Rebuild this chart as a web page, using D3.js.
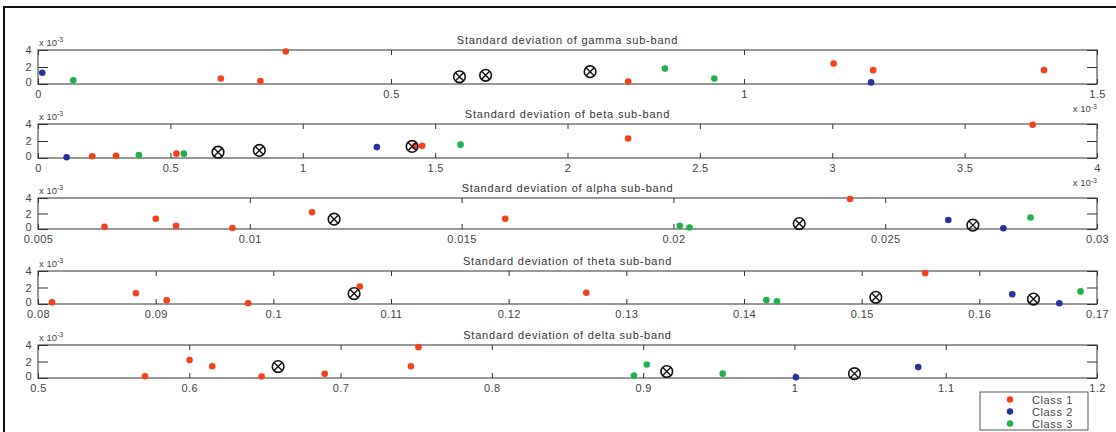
<!DOCTYPE html>
<html>
<head>
<meta charset="utf-8">
<script src="https://cdn.jsdelivr.net/npm/d3@7"></script>
<style>
  body { margin: 0; background: #fff; }
  text { font-family: "Liberation Sans", Arial, sans-serif; }
</style>
</head>
<body>
<div id="chart"></div>
<script>
// band titles, top to bottom
var bandTitles = [
  "Standard deviation of gamma sub-band",
  "Standard deviation of beta sub-band",
  "Standard deviation of alpha sub-band",
  "Standard deviation of theta sub-band",
  "Standard deviation of delta sub-band"
];

// x ranges and tick values (gamma and beta are in units of 1e-3)
var xDomains = [[0, 1.5], [0, 4], [0.005, 0.03], [0.08, 0.17], [0.5, 1.2]];
var xTicks = [
  [0, 0.5, 1, 1.5],
  [0, 0.5, 1, 1.5, 2, 2.5, 3, 3.5, 4],
  [0.005, 0.01, 0.015, 0.02, 0.025, 0.03],
  [0.08, 0.09, 0.1, 0.11, 0.12, 0.13, 0.14, 0.15, 0.16, 0.17],
  [0.5, 0.6, 0.7, 0.8, 0.9, 1, 1.1, 1.2]
];
var xExponent = [true, true, false, false, false];
var yTicks = [0, 2, 4];

// points as [x, y]; y in units of 1e-3
var gammaClass1 = [[0.259, 0.64], [0.315, 0.34], [0.351, 3.83], [0.836, 0.28], [1.127, 2.42], [1.183, 1.63], [1.425, 1.63]];
var gammaClass2 = [[0.006, 1.32], [1.180, 0.19]];
var gammaClass3 = [[0.050, 0.43], [0.888, 1.81], [0.958, 0.65]];
var gammaCenters = [[0.597, 0.85], [0.634, 1.02], [0.782, 1.45]];

var betaClass1 = [[0.205, 0.21], [0.295, 0.26], [0.523, 0.51], [1.424, 1.40], [1.451, 1.45], [2.229, 2.30], [3.757, 3.91]];
var betaClass2 = [[0.108, 0.09], [1.280, 1.28]];
var betaClass3 = [[0.381, 0.34], [0.551, 0.51], [1.596, 1.57]];
var betaCenters = [[0.680, 0.68], [0.836, 0.89], [1.413, 1.36]];

var alphaClass1 = [[0.00657, 0.3], [0.00778, 1.32], [0.00826, 0.4], [0.00959, 0.12], [0.01147, 2.16], [0.01603, 1.32], [0.02417, 3.86]];
var alphaClass2 = [[0.02649, 1.16], [0.02779, 0.1]];
var alphaClass3 = [[0.02015, 0.42], [0.02038, 0.2], [0.02843, 1.49]];
var alphaCenters = [[0.01199, 1.27], [0.02297, 0.70], [0.02707, 0.50]];

var thetaClass1 = [[0.08119, 0.2], [0.08832, 1.30], [0.09094, 0.45], [0.09786, 0.1], [0.10735, 2.13], [0.1266, 1.36], [0.1554, 3.74]];
var thetaClass2 = [[0.1628, 1.19], [0.1668, 0.1]];
var thetaClass3 = [[0.1419, 0.47], [0.1428, 0.32], [0.1686, 1.53]];
var thetaCenters = [[0.10686, 1.26], [0.1512, 0.81], [0.1646, 0.6]];

var deltaClass1 = [[0.5707, 0.22], [0.6002, 2.19], [0.6152, 1.42], [0.6478, 0.18], [0.6895, 0.52], [0.7465, 1.42], [0.7515, 3.74]];
var deltaClass2 = [[1.001, 0.09], [1.0818, 1.32]];
var deltaClass3 = [[0.8939, 0.31], [0.9024, 1.63], [0.9526, 0.53]];
var deltaCenters = [[0.6587, 1.38], [0.9156, 0.79], [1.0397, 0.53]];

var classNames = ["Class 1", "Class 2", "Class 3"];
var classColors = ["#f5401c", "#25339a", "#1fb24a"];

var bands = [
  [gammaClass1, gammaClass2, gammaClass3, gammaCenters],
  [betaClass1, betaClass2, betaClass3, betaCenters],
  [alphaClass1, alphaClass2, alphaClass3, alphaCenters],
  [thetaClass1, thetaClass2, thetaClass3, thetaCenters],
  [deltaClass1, deltaClass2, deltaClass3, deltaCenters]
];

var W = 1116, H = 432;
var left = 38, right = 1097;
var panelTops = [50, 124, 198, 271, 345];
var panelBottoms = [84, 158, 229, 304, 378];

var svg = d3.select("#chart").append("svg")
  .attr("width", W)
  .attr("height", H);

svg.append("rect").attr("width", W).attr("height", H).attr("fill", "#fff");

// figure frame (top and left edges show in the picture)
svg.append("path")
  .attr("d", "M4," + H + " V7 H" + W)
  .attr("fill", "none")
  .attr("stroke", "#111")
  .attr("stroke-width", 2);

bands.forEach(function (band, i) {
  var top = panelTops[i], bottom = panelBottoms[i];

  var x = d3.scaleLinear().domain(xDomains[i]).range([left, right]);
  var y = d3.scaleLinear().domain([0, 4]).range([bottom, top]);

  var g = svg.append("g");

  // box
  g.append("rect")
    .attr("x", left).attr("y", top)
    .attr("width", right - left).attr("height", bottom - top)
    .attr("fill", "none")
    .attr("stroke", "#333")
    .attr("stroke-width", 1);

  // bottom axis: labels + inward ticks
  var xAxis = g.append("g")
    .attr("transform", "translate(0," + bottom + ")")
    .call(d3.axisBottom(x).tickValues(xTicks[i]).tickSize(-5).tickPadding(6.5).tickFormat(function (d) { return String(d); }));
  xAxis.select(".domain").remove();

  // top axis: inward ticks only
  var xTop = g.append("g")
    .attr("transform", "translate(0," + top + ")")
    .call(d3.axisTop(x).tickValues(xTicks[i]).tickSize(-5).tickFormat(""));
  xTop.select(".domain").remove();

  // left and right y ticks
  var yAxis = g.append("g")
    .attr("transform", "translate(" + left + ",0)")
    .call(d3.axisLeft(y).tickValues(yTicks).tickSize(-10).tickPadding(6).tickFormat(d3.format("d")));
  yAxis.select(".domain").remove();
  // the 0 label sits a little higher so it clears the x labels
  yAxis.selectAll(".tick text").filter(function (d) { return d === 0; }).attr("dy", "0.1em");
  var yRight = g.append("g")
    .attr("transform", "translate(" + right + ",0)")
    .call(d3.axisRight(y).tickValues(yTicks).tickSize(-10).tickFormat(""));
  yRight.select(".domain").remove();

  g.selectAll(".tick line").attr("stroke", "#333");
  g.selectAll(".tick text")
    .attr("fill", "#444")
    .style("font-size", "11px")
    .style("letter-spacing", "0.4px");

  // x10^-3 on the y axis
  var yExp = g.append("text")
    .attr("x", left + 1)
    .attr("y", top - 4)
    .attr("fill", "#444")
    .style("font-size", "9.5px")
    .text("x 10");
  yExp.append("tspan").attr("dy", -4).style("font-size", "7px").text("-3");

  if (xExponent[i]) {
    var xExp = g.append("text")
      .attr("x", right)
      .attr("y", bottom + 28)
      .attr("text-anchor", "end")
      .attr("fill", "#444")
      .style("font-size", "9.5px")
      .text("x 10");
    xExp.append("tspan").attr("dy", -3.5).style("font-size", "7px").text("-3");
  }

  g.append("text")
    .attr("x", (left + right) / 2)
    .attr("y", top - 6)
    .attr("text-anchor", "middle")
    .attr("fill", "#333")
    .style("font-size", "11px")
    .style("letter-spacing", "0.8px")
    .text(bandTitles[i]);

  // class points
  for (var c = 0; c < 3; c++) {
    g.selectAll(".dot" + c)
      .data(band[c])
      .enter().append("circle")
      .attr("class", "dot" + c)
      .attr("cx", function (d) { return x(d[0]); })
      .attr("cy", function (d) { return y(d[1]); })
      .attr("r", 3.3)
      .attr("fill", classColors[c]);
  }

  // centroids: circle with a cross
  var cen = g.selectAll(".center")
    .data(band[3])
    .enter().append("g")
    .attr("class", "center")
    .attr("transform", function (d) { return "translate(" + x(d[0]) + "," + y(d[1]) + ")"; });
  cen.append("circle").attr("r", 5.8).attr("fill", "none").attr("stroke", "#111").attr("stroke-width", 1.6);
  cen.append("path").attr("d", "M-4,-4L4,4M-4,4L4,-4").attr("stroke", "#111").attr("stroke-width", 1.4);
});

// legend
var legend = svg.append("g").attr("transform", "translate(980,392)");
legend.append("rect")
  .attr("width", 108).attr("height", 38)
  .attr("fill", "#fff")
  .attr("stroke", "#555");
classNames.forEach(function (name, k) {
  legend.append("circle")
    .attr("cx", 30).attr("cy", 7.5 + k * 12)
    .attr("r", 3.2)
    .attr("fill", classColors[k]);
  legend.append("text")
    .attr("x", 52).attr("y", 11.5 + k * 12)
    .attr("fill", "#444")
    .style("font-size", "11px")
    .style("letter-spacing", "0.6px")
    .text(name);
});
</script>
</body>
</html>
